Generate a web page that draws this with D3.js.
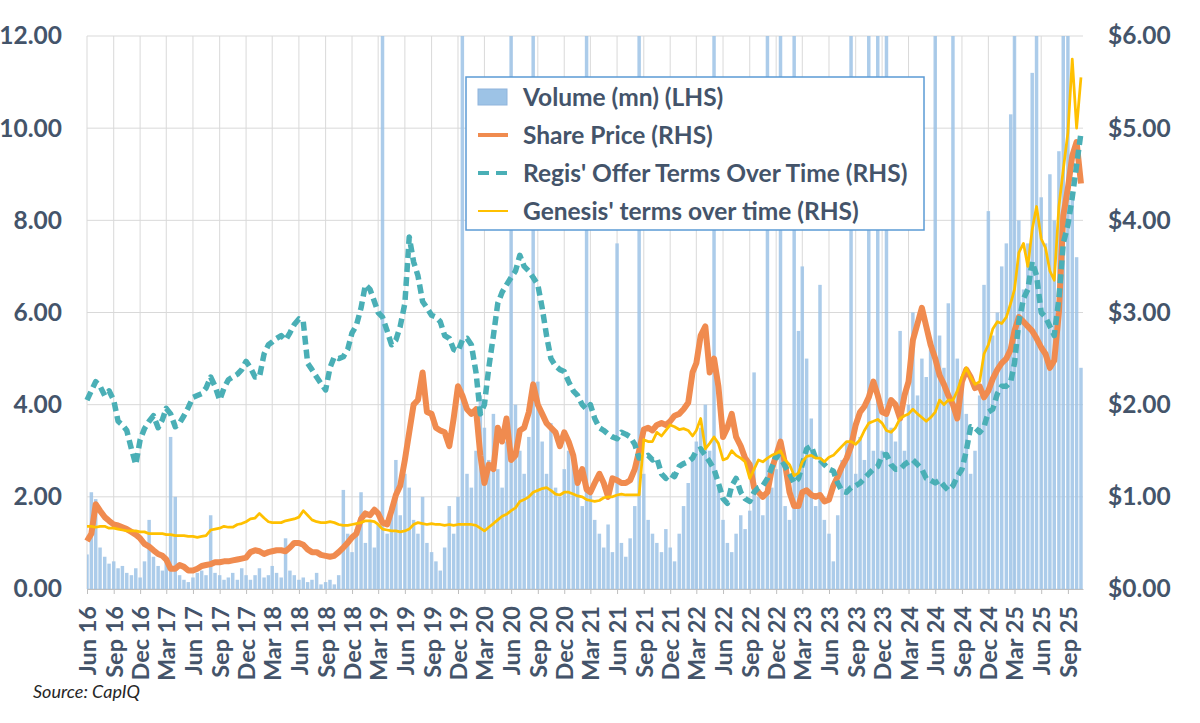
<!DOCTYPE html>
<html>
<head>
<meta charset="utf-8">
<script src="https://cdn.jsdelivr.net/npm/d3@7"></script>
<style>
  body { margin: 0; background: #fff; }
  text { font-family: Lato, "Open Sans", sans-serif; }
</style>
</head>
<body>
<svg></svg>
<script>
// half-monthly readings (1st and 16th of each month), Jun 2016 -> Oct 2025
const FIRST_DAY = '2016-06-01';
const LAST_MONTH = '2025-11-01';
const AXIS_END = '2025-10-23';

// Volume (mn), LHS
const volume = [
	// 2016
	0.75, 2.1, 1.95, 0.9, 0.7, 0.55, 0.6, 0.45, 0.5, 0.35, 0.3, 0.45, 0.25, 0.6,
	// 2017
	1.5, 0.7, 0.5, 0.4, 0.6, 3.3, 2.0, 0.3, 0.2, 0.15, 0.25, 0.35, 0.4, 0.3, 1.6, 0.35, 0.3, 0.2, 0.25, 0.35, 0.2, 0.45, 0.3, 0.2,
	// 2018
	0.3, 0.45, 0.25, 0.3, 0.5, 0.35, 0.25, 1.1, 0.4, 0.3, 0.2, 0.25, 0.15, 0.2, 0.35, 0.1, 0.15, 0.2, 0.1, 0.3, 2.15, 1.2, 0.8, 1.3,
	// 2019
	2.1, 1.0, 1.5, 0.9, 1.4, 13, 1.2, 1.8, 2.8, 1.6, 2.5, 2.2, 1.5, 1.2, 2.0, 1.0, 0.8, 0.6, 0.4, 0.9, 1.8, 1.2, 2.0, 13,
	// 2020
	2.5, 2.2, 3.0, 4.2, 3.5, 2.8, 3.8, 2.6, 2.2, 3.2, 13, 4.0, 3.0, 2.5, 3.3, 13, 4.5, 3.2, 2.5, 3.6, 2.2, 2.0, 2.6, 3.0,
	// 2021
	2.8, 2.4, 1.8, 13, 2.2, 1.5, 1.2, 0.9, 1.4, 0.8, 7.5, 1.0, 0.7, 1.1, 1.8, 13, 2.5, 1.5, 1.2, 1.0, 0.8, 1.3, 0.9, 0.6,
	// 2022
	1.2, 1.8, 2.3, 2.8, 3.2, 3.5, 4.0, 3.0, 13, 2.2, 1.5, 1.0, 0.8, 1.2, 1.6, 1.3, 1.7, 4.7, 2.0, 1.6, 13, 2.2, 2.6, 13,
	// 2023
	1.8, 1.5, 13, 5.6, 7.0, 5.0, 3.7, 1.8, 6.6, 1.5, 1.2, 0.6, 1.6, 2.8, 3.2, 13, 2.5, 3.3, 2.8, 13, 3.0, 13, 3.0, 13,
	// 2024
	3.5, 3.2, 5.6, 3.0, 4.0, 6.0, 4.2, 5.0, 4.6, 5.2, 13, 5.5, 4.8, 6.2, 13, 5.0, 4.5, 3.8, 2.5, 3.0, 4.2, 6.6, 8.2, 5.5,
	// 2025
	6.0, 7.0, 7.5, 10.3, 13, 8.0, 6.5, 7.5, 11.2, 13, 8.5, 7.5, 9.0, 8.0, 9.5, 13, 13, 8.5, 7.2, 4.8
];

// Share Price ($), RHS
const sharePrice = [
	// 2016
	0.52, 0.6, 0.92, 0.85, 0.78, 0.74, 0.7, 0.69, 0.67, 0.65, 0.62, 0.59, 0.55, 0.49,
	// 2017
	0.46, 0.42, 0.38, 0.36, 0.32, 0.22, 0.22, 0.26, 0.24, 0.2, 0.2, 0.22, 0.25, 0.26, 0.27, 0.29, 0.29, 0.3, 0.3, 0.31, 0.32, 0.33, 0.34, 0.4,
	// 2018
	0.42, 0.41, 0.38, 0.4, 0.41, 0.42, 0.42, 0.41, 0.45, 0.5, 0.5, 0.48, 0.43, 0.4, 0.4, 0.37, 0.36, 0.35, 0.36, 0.4, 0.45, 0.5, 0.56, 0.6,
	// 2019
	0.76, 0.82, 0.8, 0.86, 0.82, 0.72, 0.7, 0.85, 1.02, 1.12, 1.4, 1.7, 2.0, 2.05, 2.35, 1.92, 1.9, 1.75, 1.72, 1.7, 1.55, 1.85, 2.2, 2.1,
	// 2020
	1.95, 1.9, 1.95, 1.45, 1.15, 1.35, 1.3, 1.75, 1.6, 1.85, 1.4, 1.45, 1.72, 1.75, 1.92, 2.22, 2.0, 1.9, 1.8, 1.75, 1.7, 1.55, 1.7, 1.6,
	// 2021
	1.45, 1.15, 1.3, 1.08, 1.05, 1.15, 1.25, 1.15, 1.0, 1.2, 1.18, 1.15, 1.15, 1.18, 1.3, 1.5, 1.73, 1.75, 1.72, 1.78, 1.8, 1.78, 1.82, 1.88,
	// 2022
	1.9, 1.95, 2.02, 2.35, 2.45, 2.75, 2.85, 2.35, 2.5, 2.2, 1.65, 1.75, 1.9, 1.65, 1.55, 1.42, 1.35, 1.1, 1.05, 1.0, 1.05, 1.3, 1.45, 1.6,
	// 2023
	1.35, 1.05, 0.9, 0.9, 1.05, 1.07, 1.02, 1.0, 1.02, 0.95, 0.97, 1.12, 1.22, 1.33, 1.42, 1.55, 1.78, 1.92, 1.98, 2.08, 2.25, 2.1, 1.92, 1.9,
	// 2024
	2.05, 2.0, 1.85, 2.1, 2.25, 2.7, 2.88, 3.05, 2.85, 2.65, 2.5, 2.32, 2.22, 2.1, 2.0, 1.85, 2.25, 2.38, 2.3, 2.18, 2.2, 2.08, 2.15, 2.28,
	// 2025
	2.38, 2.45, 2.5, 2.6, 2.8, 2.95, 2.9, 2.85, 2.8, 2.72, 2.62, 2.55, 2.4, 2.48, 3.0, 4.05, 4.35, 4.7, 4.85, 4.4
];

// Regis' offer terms ($), RHS
const regisTerms = [
	// 2016
	2.05, 2.15, 2.25, 2.2, 2.1, 2.15, 2.05, 1.82, 1.78, 1.72, 1.52, 1.35, 1.62, 1.74,
	// 2017
	1.82, 1.88, 1.75, 1.84, 1.96, 1.9, 1.76, 1.8, 1.88, 1.97, 2.08, 2.1, 2.12, 2.18, 2.3, 2.2, 2.05, 2.18, 2.27, 2.3, 2.33, 2.38, 2.47, 2.4,
	// 2018
	2.3, 2.3, 2.55, 2.65, 2.68, 2.72, 2.75, 2.7, 2.78, 2.87, 2.93, 2.9, 2.45, 2.38, 2.3, 2.23, 2.16, 2.4, 2.52, 2.5, 2.52, 2.6, 2.78, 2.86,
	// 2019
	3.05, 3.3, 3.25, 3.12, 3.0, 2.95, 2.8, 2.65, 2.7, 2.85, 3.1, 3.82, 3.55, 3.4, 3.12, 3.05, 2.97, 2.95, 2.9, 2.75, 2.72, 2.6, 2.58, 2.7,
	// 2020
	2.72, 2.65, 2.35, 1.9, 2.0, 2.4, 2.75, 3.1, 3.22, 3.3, 3.38, 3.45, 3.62, 3.5, 3.45, 3.38, 3.3, 3.05, 2.75, 2.5, 2.42, 2.38, 2.36, 2.25,
	// 2021
	2.15, 2.1, 2.0, 1.95, 2.0, 1.85, 1.75, 1.72, 1.68, 1.65, 1.63, 1.7, 1.68, 1.65, 1.57, 1.42, 1.42, 1.45, 1.4, 1.42, 1.25, 1.2, 1.25, 1.22,
	// 2022
	1.33, 1.36, 1.38, 1.42, 1.5, 1.52, 1.45, 1.38, 1.3, 1.15, 0.98, 0.93, 1.12, 1.2, 1.05, 0.98, 0.95, 1.05, 1.1, 1.12, 1.2, 1.32, 1.45, 1.42,
	// 2023
	1.33, 1.25, 1.15, 1.2, 1.35, 1.52, 1.55, 1.42, 1.4, 1.35, 1.3, 1.28, 1.15, 1.06, 1.05, 1.1, 1.12, 1.15, 1.2, 1.25, 1.3, 1.33, 1.45, 1.46,
	// 2024
	1.35, 1.3, 1.3, 1.35, 1.38, 1.4, 1.35, 1.3, 1.2, 1.18, 1.15, 1.18, 1.12, 1.07, 1.12, 1.22, 1.3, 1.5, 1.76, 1.75, 1.7, 1.76, 1.92, 1.95,
	// 2025
	2.12, 2.2, 2.2, 2.25, 2.45, 2.9, 3.15, 3.25, 3.55, 3.4, 3.0, 2.95, 2.85, 2.75, 3.15, 3.75, 3.95, 4.25, 4.6, 4.95
];

// Genesis' terms ($), RHS
const genesisTerms = [
	// 2016
	0.68, 0.68, 0.67, 0.68, 0.68, 0.66, 0.66, 0.65, 0.64, 0.63, 0.63, 0.63, 0.62, 0.62,
	// 2017
	0.6, 0.6, 0.6, 0.6, 0.59, 0.59, 0.58, 0.58, 0.58, 0.57, 0.57, 0.56, 0.57, 0.58, 0.64, 0.65, 0.66, 0.68, 0.67, 0.67, 0.7, 0.71, 0.73, 0.76,
	// 2018
	0.77, 0.82, 0.77, 0.73, 0.72, 0.72, 0.72, 0.74, 0.75, 0.76, 0.78, 0.85, 0.8, 0.75, 0.73, 0.72, 0.72, 0.73, 0.72, 0.7, 0.69, 0.69, 0.7, 0.71,
	// 2019
	0.72, 0.74, 0.74, 0.73, 0.7, 0.65, 0.64, 0.63, 0.63, 0.62, 0.63, 0.65, 0.7, 0.72, 0.71, 0.7, 0.71, 0.7, 0.7, 0.69, 0.7, 0.69, 0.7, 0.7,
	// 2020
	0.7, 0.7, 0.69, 0.66, 0.63, 0.67, 0.71, 0.75, 0.79, 0.81, 0.85, 0.88, 0.95, 0.97, 1.0, 1.05, 1.07, 1.09, 1.1, 1.07, 1.03, 1.02, 1.05, 1.05,
	// 2021
	1.03, 1.01, 1.0, 0.97, 0.96, 0.95, 0.96, 0.99, 1.0, 1.0, 1.02, 1.03, 1.02, 1.02, 1.02, 1.02, 1.62, 1.6, 1.6, 1.7, 1.66, 1.72, 1.78, 1.76,
	// 2022
	1.73, 1.74, 1.72, 1.66, 1.72, 1.85, 1.52, 1.58, 1.65, 1.58, 1.4, 1.42, 1.5, 1.45, 1.42, 1.38, 1.2, 1.3, 1.4, 1.38, 1.42, 1.45, 1.47, 1.5,
	// 2023
	1.4, 1.35, 1.23, 1.26, 1.38, 1.44, 1.45, 1.42, 1.42, 1.38, 1.43, 1.45, 1.5, 1.55, 1.6, 1.6, 1.57, 1.62, 1.72, 1.8, 1.82, 1.84, 1.8, 1.72,
	// 2024
	1.7, 1.75, 1.85, 1.88, 1.9, 1.95, 1.9, 1.86, 1.82, 1.86, 1.92, 2.05, 2.0, 2.05, 2.05, 2.15, 2.3, 2.4, 2.3, 2.22, 2.25, 2.55, 2.65, 2.82,
	// 2025
	2.9, 2.88, 2.95, 3.1, 3.25, 3.65, 3.75, 3.5, 3.9, 4.15, 3.8, 3.7, 3.45, 3.35, 4.15, 4.55, 4.95, 5.75, 5.0, 5.55
];

const leftTicks = [0, 2, 4, 6, 8, 10, 12];
const rightTicks = [0, 1, 2, 3, 4, 5, 6];
const legendItems = [
	{label: "Volume (mn) (LHS)", kind: 'bar'},
	{label: "Share Price (RHS)", kind: 'price'},
	{label: "Regis' Offer Terms Over Time (RHS)", kind: 'regis'},
	{label: "Genesis' terms over time (RHS)", kind: 'genesis'}
];

const COLORS = {
	bar: '#9dc3e6',
	barEdge: '#8fb4dc',
	price: '#f08b4f',
	regis: '#4aafb6',
	genesis: '#ffc000',
	grid: '#d9d9d9',
	text: '#44546a'
};

const parse = d3.timeParse('%Y-%m-%d');
const dates = d3.timeMonth.range(parse(FIRST_DAY), parse(LAST_MONTH))
	.flatMap(m => [m, d3.timeDay.offset(m, 15)]);
const quarters = d3.timeMonth.range(parse(FIRST_DAY), parse('2025-10-01'), 3);

const w = 1200, h = 723;
const margin = {top: 36, right: 117, bottom: 134, left: 87};

const svg = d3.select('svg')
	.attr('width', w)
	.attr('height', h)
	.attr('viewBox', [0, 0, w, h]);

svg.append('rect').attr('width', w).attr('height', h).attr('fill', '#fff');

const x = d3.scaleTime()
	.domain([parse(FIRST_DAY), parse(AXIS_END)])
	.range([margin.left, w - margin.right]);
const yL = d3.scaleLinear().domain([0, 12]).range([h - margin.bottom, margin.top]);
const yR = d3.scaleLinear().domain([0, 6]).range([h - margin.bottom, margin.top]);

svg.append('clipPath').attr('id', 'plot')
	.append('rect')
	.attr('x', margin.left).attr('y', margin.top)
	.attr('width', w - margin.left - margin.right)
	.attr('height', h - margin.top - margin.bottom);

// grid
svg.append('g')
	.selectAll('line')
	.data(leftTicks)
	.join('line')
	.attr('x1', margin.left).attr('x2', w - margin.right)
	.attr('y1', d => yL(d)).attr('y2', d => yL(d))
	.attr('stroke', COLORS.grid).attr('stroke-width', 1);
svg.append('g')
	.selectAll('line')
	.data(quarters)
	.join('line')
	.attr('x1', d => x(d)).attr('x2', d => x(d))
	.attr('y1', margin.top).attr('y2', h - margin.bottom)
	.attr('stroke', COLORS.grid).attr('stroke-width', 1);

// volume bars
const rows = dates.map((d, i) => ({
	date: d,
	vol: volume[i],
	price: sharePrice[i],
	regis: regisTerms[i],
	genesis: genesisTerms[i]
}));
const step = x(dates[1]) - x(dates[0]);
const bw = step * 0.8;

svg.append('g')
	.attr('clip-path', 'url(#plot)')
	.selectAll('rect')
	.data(rows)
	.join('rect')
	.attr('x', d => x(d.date) - bw / 2)
	.attr('width', bw)
	.attr('y', d => yL(d.vol))
	.attr('height', d => yL(0) - yL(d.vol))
	.attr('fill', COLORS.bar)
	.attr('opacity', 0.85);

// lines on the right axis
const lineFor = key => d3.line()
	.x(d => x(d.date))
	.y(d => yR(d[key]));

svg.append('path')
	.datum(rows)
	.attr('d', lineFor('price'))
	.attr('fill', 'none')
	.attr('stroke', COLORS.price)
	.attr('stroke-width', 6)
	.attr('stroke-linejoin', 'round');

svg.append('path')
	.datum(rows)
	.attr('d', lineFor('regis'))
	.attr('fill', 'none')
	.attr('stroke', COLORS.regis)
	.attr('stroke-width', 5.5)
	.attr('stroke-dasharray', '9,5')
	.attr('stroke-linejoin', 'round');

svg.append('path')
	.datum(rows)
	.attr('d', lineFor('genesis'))
	.attr('fill', 'none')
	.attr('stroke', COLORS.genesis)
	.attr('stroke-width', 2.75)
	.attr('stroke-linejoin', 'round');

// axes
const xAxis = svg.append('g')
	.attr('transform', `translate(0,${h - margin.bottom})`)
	.call(d3.axisBottom(x)
		.tickValues(quarters)
		.tickFormat(d3.timeFormat('%b %y'))
		.tickSize(5)
		.tickSizeOuter(0));
xAxis.select('.domain').attr('stroke', '#bfbfbf');
xAxis.selectAll('.tick line').attr('stroke', '#bfbfbf');
xAxis.selectAll('.tick text')
	.attr('transform', 'rotate(-90)')
	.attr('x', -17)
	.attr('y', 0)
	.attr('dy', '0.36em')
	.attr('text-anchor', 'end')
	.attr('fill', COLORS.text)
	.style('font-size', '23.5px')
	.style('font-weight', 700);

const leftAxis = svg.append('g')
	.attr('transform', `translate(${margin.left},0)`)
	.call(d3.axisLeft(yL)
		.tickValues(leftTicks)
		.tickFormat(d3.format('.2f'))
		.tickSize(0)
		.tickPadding(25));
leftAxis.select('.domain').remove();
leftAxis.selectAll('text')
	.attr('fill', COLORS.text)
	.style('font-size', '24.5px')
	.style('font-weight', 700);

const rightAxis = svg.append('g')
	.attr('transform', `translate(${w - margin.right},0)`)
	.call(d3.axisRight(yR)
		.tickValues(rightTicks)
		.tickFormat(d => '$' + d3.format('.2f')(d))
		.tickSize(0)
		.tickPadding(25));
rightAxis.select('.domain').remove();
rightAxis.selectAll('text')
	.attr('fill', COLORS.text)
	.style('font-size', '24.5px')
	.style('font-weight', 700);

// legend
const legend = svg.append('g').attr('transform', 'translate(466,77)');
legend.append('rect')
	.attr('width', 458).attr('height', 153)
	.attr('fill', '#fff')
	.attr('stroke', '#5b9bd5')
	.attr('stroke-width', 1.5);

const li = legend.selectAll('g.item')
	.data(legendItems)
	.join('g')
	.attr('class', 'item')
	.attr('transform', (d, i) => `translate(0,${20 + i * 38})`);

li.each(function(d) {
	const g = d3.select(this);
	if (d.kind === 'bar') {
		g.append('rect')
			.attr('x', 12).attr('y', -8).attr('width', 29).attr('height', 16)
			.attr('fill', COLORS.bar).attr('stroke', COLORS.barEdge);
	} else if (d.kind === 'price') {
		g.append('line').attr('x1', 12).attr('x2', 42)
			.attr('stroke', COLORS.price).attr('stroke-width', 4);
	} else if (d.kind === 'regis') {
		g.append('line').attr('x1', 12).attr('x2', 42)
			.attr('stroke', COLORS.regis).attr('stroke-width', 4)
			.attr('stroke-dasharray', '11,7');
	} else {
		g.append('line').attr('x1', 12).attr('x2', 42)
			.attr('stroke', COLORS.genesis).attr('stroke-width', 2);
	}
});

li.append('text')
	.attr('x', 57)
	.attr('dy', '0.35em')
	.attr('fill', COLORS.text)
	.style('font-size', '24.5px')
	.style('font-weight', 700)
	.text(d => d.label);

svg.append('text')
	.attr('x', 33)
	.attr('y', 698)
	.attr('fill', '#262626')
	.style('font-size', '18px')
	.style('font-style', 'italic')
	.text('Source: CapIQ');
</script>
</body>
</html>
